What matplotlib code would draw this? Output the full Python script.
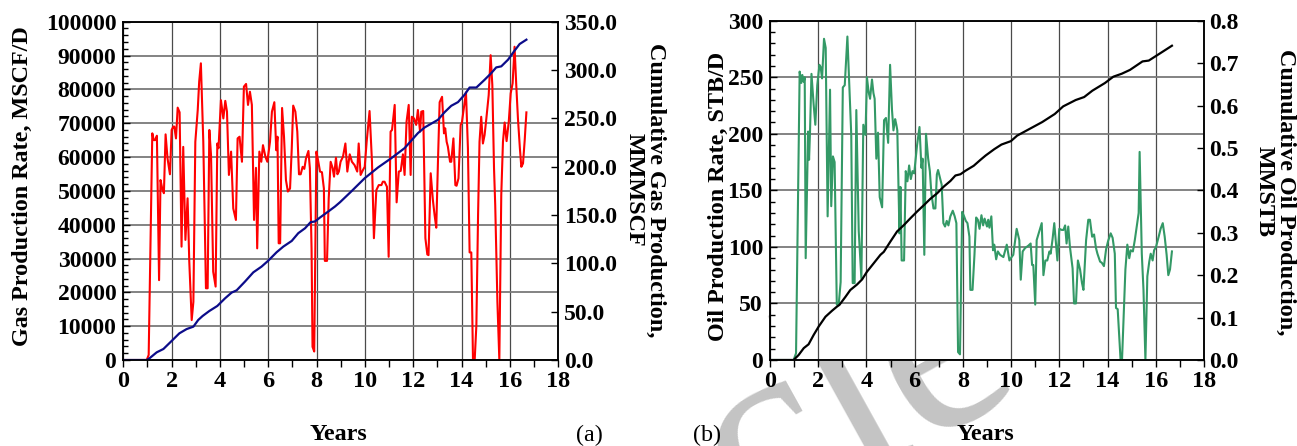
import matplotlib
matplotlib.use('Agg')
import matplotlib.pyplot as plt
from matplotlib.ticker import MultipleLocator, FormatStrFormatter

plt.rcParams['font.family'] = 'Liberation Serif'
plt.rcParams['font.weight'] = 'bold'

# Gas production rate, MSCF/D
gas_t = [0, 0.97, 1.05, 1.2, 1.26, 1.32, 1.39, 1.48, 1.54, 1.61, 1.68, 1.75, 1.83, 1.93,
         2.0, 2.07, 2.11, 2.18, 2.25, 2.33, 2.41, 2.48, 2.57, 2.66, 2.73, 2.83, 2.9, 2.98,
         3.08, 3.14, 3.21, 3.31, 3.42, 3.49, 3.56, 3.63, 3.72, 3.82, 3.89, 3.94, 4.04, 4.14,
         4.22, 4.29, 4.37, 4.46, 4.55, 4.66, 4.73, 4.81, 4.91, 4.99, 5.08, 5.16, 5.24, 5.32,
         5.41, 5.49, 5.54, 5.63, 5.71, 5.78, 5.88, 5.96, 6.07, 6.15, 6.25, 6.33, 6.38, 6.43,
         6.49, 6.57, 6.65, 6.73, 6.81, 6.9, 6.97, 7.03, 7.12, 7.2, 7.27, 7.34, 7.42, 7.49,
         7.56, 7.66, 7.72, 7.79, 7.83, 7.9, 7.99, 8.07, 8.14, 8.22, 8.3, 8.34, 8.43, 8.5,
         8.58, 8.66, 8.72, 8.8, 8.86, 8.92, 8.99, 9.09, 9.19, 9.27, 9.37, 9.46, 9.57, 9.68,
         9.74, 9.82, 9.92, 9.99, 10.07, 10.19, 10.29, 10.37, 10.47, 10.57, 10.68, 10.74,
         10.81, 10.91, 10.98, 11.06, 11.12, 11.23, 11.31, 11.4, 11.48, 11.57, 11.64, 11.72,
         11.81, 11.89, 11.94, 12.03, 12.12, 12.19, 12.28, 12.33, 12.41, 12.5, 12.58, 12.63,
         12.72, 12.81, 12.88, 12.95, 13.02, 13.09, 13.19, 13.27, 13.32, 13.38, 13.43, 13.52,
         13.57, 13.66, 13.74, 13.79, 13.87, 13.96, 14.01, 14.1, 14.18, 14.26, 14.33, 14.4,
         14.47, 14.54, 14.61, 14.68, 14.74, 14.81, 14.88, 14.95, 15.02, 15.12, 15.2, 15.27,
         15.34, 15.39, 15.48, 15.56, 15.64, 15.71, 15.78, 15.86, 15.95, 16.03, 16.11, 16.19,
         16.26, 16.33, 16.41, 16.47, 16.54, 16.61, 16.68]
gas_rate = [0, 0, 1500, 67000, 65000, 65000, 66300, 23600, 53200, 50700, 49300, 66700, 59600,
            54900, 68000, 69000, 69000, 65500, 74600, 73200, 33500, 63000, 35500, 47800, 29100,
            11800, 17200, 64500, 73900, 82300, 87700, 64500, 21200, 21200, 68000, 60600, 26100,
            21700, 64000, 62600, 76800, 71400, 76600, 73400, 54700, 61600, 44800, 41400, 65500,
            66000, 58600, 80800, 81600, 75400, 79300, 75400, 41400, 56800, 33000, 61600, 58600,
            63500, 60100, 58600, 64500, 73400, 76200, 62000, 66000, 34500, 34500, 74500, 66000,
            53200, 49800, 50700, 62400, 75200, 73400, 67500, 54900, 54900, 57100, 56500, 59600,
            61800, 56700, 33000, 3900, 2500, 61600, 58600, 55700, 55500, 50700, 29300, 29300,
            47800, 58600, 56800, 54200, 59800, 54900, 55700, 58600, 60100, 64000, 55700,
            60800, 58600, 57600, 55700, 64000, 54700, 56200, 57100, 64500, 73600, 58600, 36000,
            50200, 51700, 51700, 52700, 52700, 51200, 30500, 67500, 68000, 75400, 46600, 55700,
            55900, 60800, 54700, 70400, 75400, 54700, 71900, 71400, 69500, 73900, 67500, 73400,
            73600, 36000, 31200, 31000, 55200, 47300, 42900, 39100, 58600, 76200, 77800, 67000,
            68500, 64500, 63100, 58600, 58600, 65500, 51700, 51500, 53700, 69500, 70200, 74900,
            79100, 62600, 31800, 31800, 0, 0, 10300, 42900, 64500, 71900, 64000, 66500, 71200,
            78300, 90100, 81300, 56700, 45800, 17200, 0, 48800, 64500, 70200, 64700, 70400,
            78800, 81800, 92600, 81300, 71400, 62600, 57100, 58100, 65000, 73200]

# Cumulative gas production, MMMSCF
cum_gas_t = [0, 0.97, 1.08, 1.38, 1.66, 2.0, 2.32, 2.62, 2.9, 3.1, 3.28, 3.56, 3.89, 4.21,
             4.48, 4.69, 5.03, 5.38, 5.72, 6.0, 6.34, 6.62, 6.97, 7.24, 7.52, 7.75, 7.93,
             8.14, 8.48, 8.76, 8.97, 9.43, 9.99, 10.54, 11.09, 11.64, 12.19, 12.47, 13.02,
             13.3, 13.57, 13.85, 14.12, 14.33, 14.61, 14.95, 15.23, 15.43, 15.64, 15.92,
             16.19, 16.4, 16.68]
cum_gas = [0, 0, 1.7, 7.9, 11.4, 19.7, 27.6, 32, 34.5, 41.4, 45.5, 50.7, 55.9, 63.8, 69.7,
           72.1, 81, 90.7, 96.6, 102.8, 111.4, 117.3, 123.2, 131.2, 136.3, 142.6, 143.3, 147.4,
           153.6, 158.8, 163.3, 174.3, 188.1, 199.2, 208.8, 219.2, 234.7, 240.6, 248.5, 256.5,
           263, 266.8, 274.4, 281.9, 281.9, 289.9, 296.9, 302.7, 303.8, 310.7, 320, 326.9, 331.4]

# Oil production rate, STB/D
oil_t = [0, 0.98, 1.08, 1.23, 1.3, 1.34, 1.4, 1.44, 1.48, 1.58, 1.62, 1.66, 1.72, 1.81, 1.88,
         1.96, 2.05, 2.1, 2.16, 2.24, 2.31, 2.39, 2.49, 2.54, 2.61, 2.68, 2.77, 2.85, 2.93,
         3.02, 3.1, 3.21, 3.29, 3.37, 3.43, 3.51, 3.58, 3.68, 3.79, 3.87, 3.96, 4.02, 4.09,
         4.15, 4.23, 4.29, 4.34, 4.41, 4.48, 4.55, 4.65, 4.73, 4.81, 4.9, 4.98, 5.06, 5.12,
         5.19, 5.24, 5.28, 5.37, 5.41, 5.46, 5.56, 5.63, 5.7, 5.77, 5.84, 5.91, 5.98, 6.1,
         6.2, 6.28, 6.33, 6.4, 6.47, 6.56, 6.63, 6.69, 6.78, 6.86, 6.92, 6.97, 7.05, 7.12,
         7.19, 7.26, 7.33, 7.4, 7.48, 7.58, 7.66, 7.73, 7.8, 7.88, 7.97, 8.05, 8.12, 8.19,
         8.27, 8.31, 8.4, 8.48, 8.55, 8.62, 8.69, 8.77, 8.84, 8.9, 9.0, 9.05, 9.1, 9.18,
         9.25, 9.3, 9.38, 9.45, 9.54, 9.68, 9.82, 9.93, 10.02, 10.09, 10.23, 10.34, 10.4,
         10.48, 10.58, 10.71, 10.81, 10.87, 10.92, 11.0, 11.06, 11.17, 11.27, 11.34, 11.42,
         11.5, 11.59, 11.64, 11.72, 11.79, 11.92, 12.0, 12.1, 12.17, 12.24, 12.3, 12.37,
         12.44, 12.55, 12.61, 12.69, 12.77, 12.86, 12.94, 13.0, 13.11, 13.2, 13.27, 13.36,
         13.44, 13.52, 13.58, 13.69, 13.76, 13.85, 13.94, 14.02, 14.13, 14.21, 14.3, 14.35,
         14.42, 14.54, 14.6, 14.68, 14.74, 14.82, 14.9, 14.96, 15.05, 15.13, 15.21, 15.29,
         15.33, 15.42, 15.49, 15.57, 15.65, 15.73, 15.79, 15.87, 15.93, 16.01, 16.12, 16.2,
         16.29, 16.37, 16.45, 16.52, 16.59, 16.67]
oil_rate = [0, 0, 6, 255, 245, 252, 246, 250, 90, 202, 177, 202, 253, 226, 208, 243, 261, 259,
            249, 284, 276, 127, 239, 136, 180, 175, 49, 49, 69, 241, 243, 286, 242, 199, 68, 68,
            221, 114, 72, 208, 199, 250, 237, 231, 248, 236, 231, 178, 201, 144, 135, 212, 214,
            192, 261, 221, 203, 213, 208, 203, 112, 153, 88, 88, 167, 158, 172, 160, 167, 165,
            190, 206, 170, 178, 93, 200, 178, 167, 148, 134, 134, 164, 168, 161, 155, 121, 118,
            123, 119, 127, 132, 127, 121, 7, 5, 131, 127, 123, 121, 109, 62, 62, 93, 126, 124,
            116, 128, 119, 125, 118, 124, 117, 127, 97, 102, 89, 96, 93, 91, 102, 88, 91, 93,
            116, 106, 71, 96, 99, 101, 103, 84, 84, 49, 106, 114, 121, 75, 88, 88, 96, 94, 107,
            121, 88, 116, 115, 115, 119, 103, 118, 100, 81, 50, 50, 88, 80, 68, 62, 106, 124,
            124, 109, 111, 99, 94, 87, 86, 83, 98, 105, 112, 108, 94, 46, 45, 0, 0, 47, 80, 102,
            90, 97, 96, 106, 118, 130, 184, 94, 62, 0, 74, 87, 94, 88, 97, 100, 109, 116, 121,
            109, 93, 75, 80, 96]

# Cumulative oil production, MMSTB
cum_oil_t = [0, 0.98, 1.19, 1.4, 1.6, 1.81, 2.02, 2.3, 2.57, 2.78, 2.88, 3.13, 3.33, 3.61,
             3.82, 4.02, 4.3, 4.58, 4.72, 4.99, 5.27, 5.55, 5.82, 6.1, 6.38, 6.65, 6.93, 7.21,
             7.48, 7.69, 7.9, 8.1, 8.45, 8.73, 8.94, 9.3, 9.6, 9.99, 10.25, 10.77, 11.29,
             11.81, 12.16, 12.68, 13.03, 13.37, 13.89, 14.24, 14.59, 14.93, 15.45, 15.71,
             16.15, 16.67]
cum_oil = [0, 0, 0.012, 0.028, 0.037, 0.059, 0.079, 0.102, 0.116, 0.126, 0.130, 0.149, 0.165,
           0.178, 0.19, 0.208, 0.228, 0.248, 0.255, 0.279, 0.303, 0.318, 0.334, 0.35, 0.365,
           0.38, 0.393, 0.409, 0.422, 0.435, 0.438, 0.446, 0.458, 0.472, 0.482, 0.497, 0.508,
           0.516, 0.529, 0.545, 0.561, 0.58, 0.598, 0.613, 0.62, 0.635, 0.653, 0.668, 0.675,
           0.684, 0.704, 0.706, 0.722, 0.741]

W, H = 1297, 446
fig = plt.figure(figsize=(W / 100, H / 100), dpi=100)
fs = 17
lfs = 17.4


def px_box(x0, y0, x1, y1):
    return [x0 / W, 1 - y1 / H, (x1 - x0) / W, (y1 - y0) / H]


def style_axes(ax, axr, ymax, ystep, yminor, rmax, rstep, rfmt, lfmt):
    ax.set_xlim(0, 18)
    ax.set_ylim(0, ymax)
    axr.set_ylim(0, rmax)
    ax.xaxis.set_major_locator(MultipleLocator(2))
    ax.xaxis.set_minor_locator(MultipleLocator(1))
    ax.yaxis.set_major_locator(MultipleLocator(ystep))
    ax.yaxis.set_minor_locator(MultipleLocator(yminor))
    ax.yaxis.set_major_formatter(FormatStrFormatter(lfmt))
    axr.yaxis.set_major_locator(MultipleLocator(rstep))
    axr.yaxis.set_major_formatter(FormatStrFormatter(rfmt))
    ax.grid(True, which='major', axis='x', color='#4a4a4a', lw=0.9)
    ax.grid(True, which='major', axis='y', color='#7a7a7a', lw=1.3)
    ax.set_axisbelow(True)
    ax.tick_params(axis='x', which='major', direction='out', length=5, width=1,
                   labelsize=fs + 0.5, pad=3)
    ax.tick_params(axis='x', which='minor', direction='out', length=5, width=1)
    ax.tick_params(axis='y', which='major', direction='in', length=5, width=1,
                   labelsize=fs, pad=5)
    ax.tick_params(axis='y', which='minor', direction='in', length=3.5, width=1)
    axr.tick_params(axis='y', which='major', direction='in', length=5, width=1,
                    labelsize=fs, pad=4)
    for a in (ax, axr):
        for s in a.spines.values():
            s.set_linewidth(1.1)
    for lab in ax.get_xticklabels() + ax.get_yticklabels() + axr.get_yticklabels():
        lab.set_fontweight('bold')


# (a) gas
ax1 = fig.add_axes(px_box(123.3, 21.7, 558.3, 360))
ax1r = ax1.twinx()
ax1.plot(gas_t, gas_rate, color='#ff0000', lw=1.5)
ax1r.plot(cum_gas_t, cum_gas, color='#0c0c8a', lw=1.6)
style_axes(ax1, ax1r, 100000, 10000, 2000, 350, 50, '%.1f', '%d')

# (b) oil
ax2 = fig.add_axes(px_box(770, 20.7, 1204, 360))
ax2r = ax2.twinx()
ax2.plot(oil_t, oil_rate, color='#339966', lw=1.5)
ax2r.plot(cum_oil_t, cum_oil, color='black', lw=1.6)
style_axes(ax2, ax2r, 300, 50, 10, 0.8, 0.1, '%.1f', '%d')

# faint watermark behind panel (b); the white plot area hides most of it
fig.text(749 / W, 1 - 536 / H, 'cle', rotation=29, rotation_mode='anchor',
         ha='left', va='baseline', fontsize=195, fontweight='normal',
         color='#c4c4c4', zorder=-5)

# axis titles
fig.text(22 / W, 1 - 186 / H, 'Gas Production Rate, MSCF/D', rotation=90,
         ha='center', va='center', fontsize=lfs, fontweight='bold')
fig.text(645 / W, 1 - 190 / H, 'Cumulative Gas Production,\nMMMSCF', rotation=-90,
         ha='center', va='center', fontsize=lfs, fontweight='bold', linespacing=1.0)
fig.text(718 / W, 1 - 196 / H, 'Oil Production Rate, STB/D', rotation=90,
         ha='center', va='center', fontsize=lfs, fontweight='bold')
fig.text(1275 / W, 1 - 192 / H, 'Cumulative Oil Production,\nMMSTB', rotation=-90,
         ha='center', va='center', fontsize=lfs, fontweight='bold', linespacing=1.0)
fig.text(338 / W, 1 - 435 / H, 'Years', ha='center', va='center',
         fontsize=lfs, fontweight='bold')
fig.text(985 / W, 1 - 435 / H, 'Years', ha='center', va='center',
         fontsize=lfs, fontweight='bold')
fig.text(589 / W, 1 - 435 / H, '(a)', ha='center', va='center',
         fontsize=lfs, fontweight='normal')
fig.text(707 / W, 1 - 435 / H, '(b)', ha='center', va='center',
         fontsize=lfs, fontweight='normal')

fig.savefig('out.png', dpi=100)
